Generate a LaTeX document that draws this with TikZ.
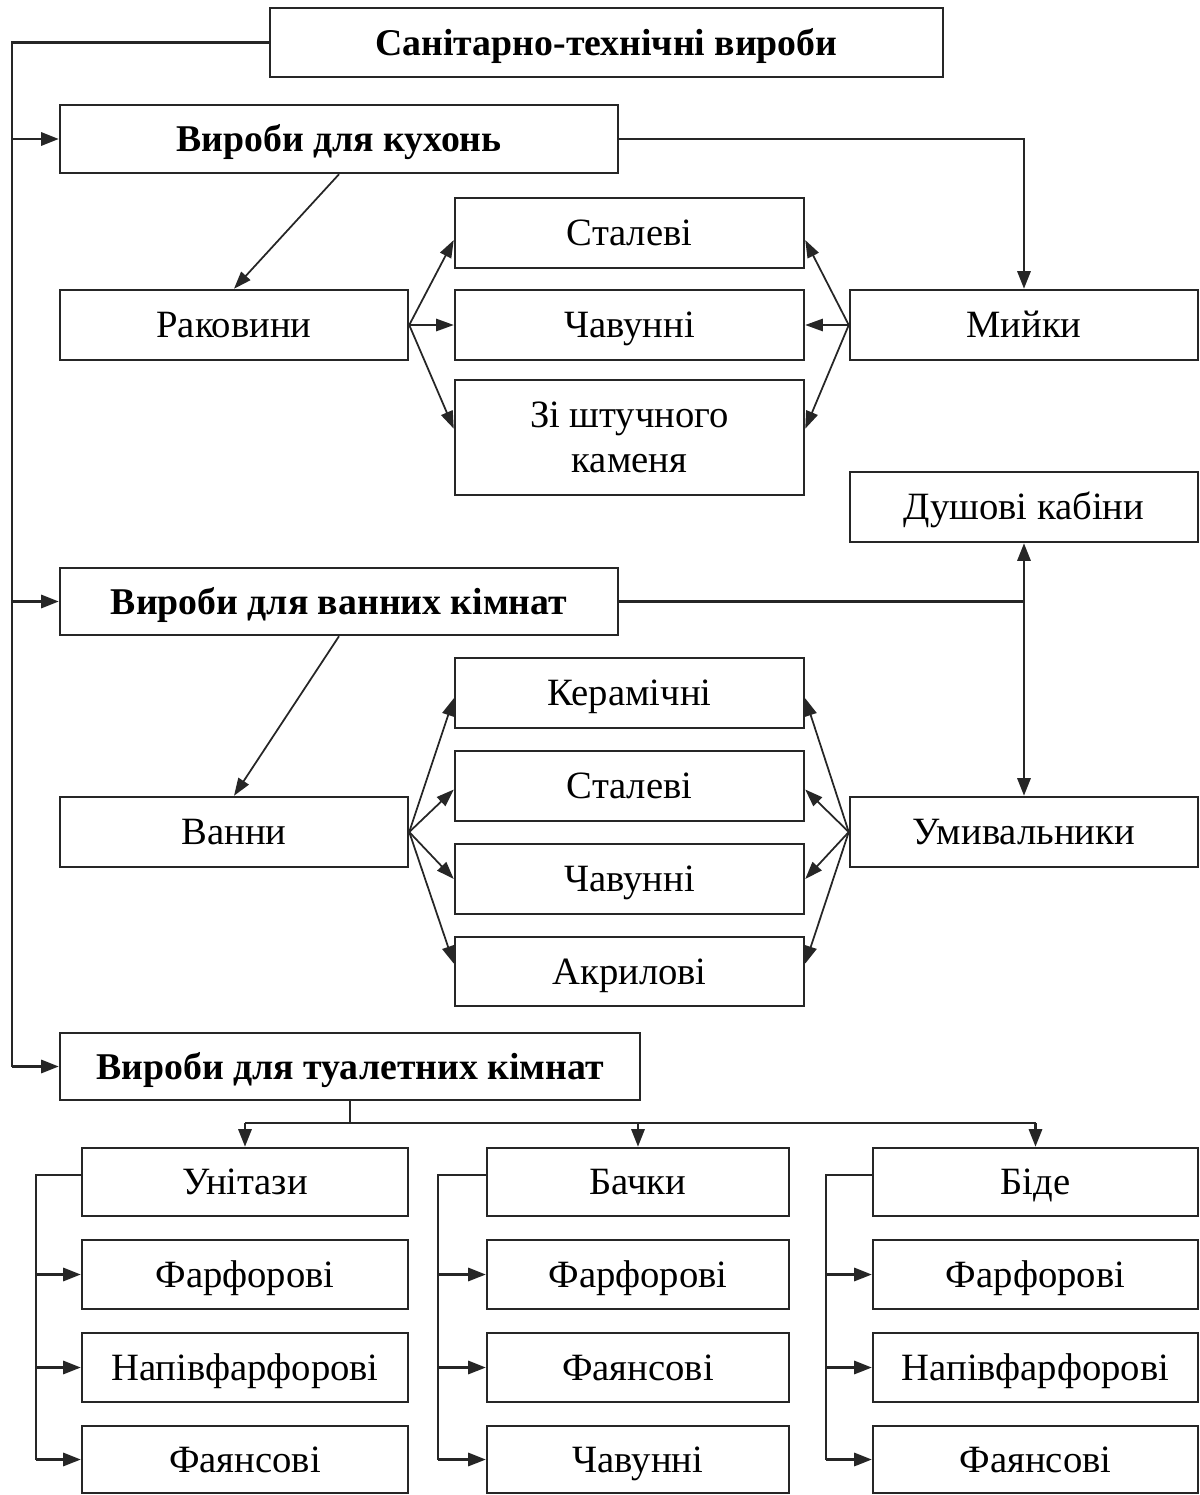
\documentclass[tikz,border=0pt]{standalone}
\usepackage{fontspec}
\setmainfont{Liberation Serif}
\usetikzlibrary{arrows.meta}
\newcommand{\bx}[7][]{\node[box,#1,minimum width={(#4-#2)*0.02cm},minimum height={(#5-#3)*0.02cm}] (#6) at ({(#2+#4)/2},{(#3+#5)/2}) {#7};}
\begin{document}
\begin{tikzpicture}[x=0.02cm,y=-0.02cm,
  boxbase/.style={draw=black!85,line width=1.4pt,inner sep=0pt,align=center,font=\fontsize{22}{26}\selectfont},
  box/.style={boxbase,text height=15.5pt,text depth=1pt},
  twoline/.style={text height=,text depth=},
  bold/.style={font=\fontsize{21.5}{26}\selectfont\bfseries},
  ln/.style={draw=black!85,line width=1.4pt},
  arr/.style={ln,-{Triangle[length=10pt,width=7.5pt]}},
  darr/.style={draw=black!85,line width=1pt,-{Triangle[length=10pt,width=7pt]}}]
\useasboundingbox (0,0) rectangle (1200,1495);
% boxes
\bx[bold]{270}{8}{943}{77}{top}{Санітарно-технічні вироби}
\bx[bold]{60}{105}{618}{173}{kitchen}{Вироби для кухонь}
\bx{60}{290}{408}{360}{rak}{Раковини}
\bx{455}{198}{804}{268}{kst}{Сталеві}
\bx{455}{290}{804}{360}{kch}{Чавунні}
\bx[twoline]{455}{380}{804}{495}{kka}{Зі штучного\\каменя}
\bx{850}{290}{1198}{360}{myi}{Мийки}
\bx{850}{472}{1198}{542}{dush}{Душові кабіни}
\bx[bold]{60}{568}{618}{635}{bath}{Вироби для ванних кімнат}
\bx{60}{797}{408}{867}{van}{Ванни}
\bx{455}{658}{804}{728}{bke}{Керамічні}
\bx{455}{751}{804}{821}{bst}{Сталеві}
\bx{455}{844}{804}{914}{bch}{Чавунні}
\bx{455}{937}{804}{1006}{bak}{Акрилові}
\bx{850}{797}{1198}{867}{umy}{Умивальники}
\bx[bold]{60}{1033}{640}{1100}{toil}{Вироби для туалетних кімнат}
% toilet columns
\bx{82}{1148}{408}{1216}{uni}{Унітази}
\bx{82}{1240}{408}{1309}{uf}{Фарфорові}
\bx{82}{1333}{408}{1402}{un}{Напівфарфорові}
\bx{82}{1426}{408}{1493}{uy}{Фаянсові}
\bx{487}{1148}{789}{1216}{bac}{Бачки}
\bx{487}{1240}{789}{1309}{bf}{Фарфорові}
\bx{487}{1333}{789}{1402}{by}{Фаянсові}
\bx{487}{1426}{789}{1493}{bc}{Чавунні}
\bx{873}{1148}{1198}{1216}{bid}{Біде}
\bx{873}{1240}{1198}{1309}{df}{Фарфорові}
\bx{873}{1333}{1198}{1402}{dn}{Напівфарфорові}
\bx{873}{1426}{1198}{1493}{dy}{Фаянсові}
% main left spine
\coordinate (L) at (12,0);
\draw[ln] (top.west) -| (L |- toil.west);
\draw[arr] (L |- kitchen.west) -- (kitchen.west);
\draw[arr] (L |- bath.west) -- (bath.west);
\draw[arr] (L |- toil.west) -- (toil.west);
% kitchen
\draw[arr] (kitchen.east) -| (myi.north);
\draw[darr] (kitchen.south) -- (rak.north);
\draw[darr] (rak.east) -- ([yshift=-4pt]kst.west);
\draw[darr] (rak.east) -- (kch.west);
\draw[darr] (rak.east) -- ([yshift=5pt]kka.west);
\draw[darr] (myi.west) -- ([yshift=-4pt]kst.east);
\draw[darr] (myi.west) -- (kch.east);
\draw[darr] (myi.west) -- ([yshift=5pt]kka.east);
% bath
\coordinate (J) at (dush.south |- bath.east);
\draw[ln] (bath.east) -- (J);
\draw[arr] (J) -- (dush.south);
\draw[arr] (J) -- (umy.north);
\draw[darr] (bath.south) -- (van.north);
\draw[darr] (van.east) -- ([yshift=-3pt]bke.west);
\draw[darr] (van.east) -- ([yshift=-2pt]bst.west);
\draw[darr] (van.east) -- (bch.west);
\draw[darr] (van.east) -- ([yshift=4.5pt]bak.west);
\draw[darr] (umy.west) -- ([yshift=-3pt]bke.east);
\draw[darr] (umy.west) -- ([yshift=-2pt]bst.east);
\draw[darr] (umy.west) -- (bch.east);
\draw[darr] (umy.west) -- ([yshift=4.5pt]bak.east);
% toilet
\coordinate (T) at (350,1123);
\draw[ln] (toil.south -| T) -- (T);
\draw[ln] (uni.north |- T) -- (bid.north |- T);
\draw[arr] (uni.north |- T) -- (uni.north);
\draw[arr] (bac.north |- T) -- (bac.north);
\draw[arr] (bid.north |- T) -- (bid.north);
% brackets
\coordinate (U) at (36,0);
\draw[ln] ([yshift=4pt]uni.west) -| (U |- uy.west);
\draw[arr] (U |- uf.west) -- (uf.west);
\draw[arr] (U |- un.west) -- (un.west);
\draw[arr] (U |- uy.west) -- (uy.west);
\coordinate (B) at (438,0);
\draw[ln] ([yshift=4pt]bac.west) -| (B |- bc.west);
\draw[arr] (B |- bf.west) -- (bf.west);
\draw[arr] (B |- by.west) -- (by.west);
\draw[arr] (B |- bc.west) -- (bc.west);
\coordinate (D) at (826,0);
\draw[ln] ([yshift=4pt]bid.west) -| (D |- dy.west);
\draw[arr] (D |- df.west) -- (df.west);
\draw[arr] (D |- dn.west) -- (dn.west);
\draw[arr] (D |- dy.west) -- (dy.west);
\end{tikzpicture}
\end{document}
